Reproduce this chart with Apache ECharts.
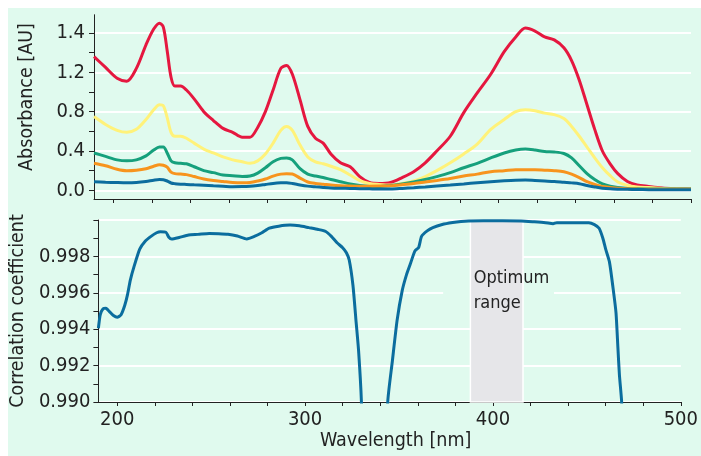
<!DOCTYPE html>
<html>
<head>
<meta charset="utf-8">
<script src="https://cdn.jsdelivr.net/npm/echarts@6/dist/echarts.min.js"></script>
<style>
  html, body { margin: 0; padding: 0; background: #fff; }
  #chart { width: 701px; height: 456px; }
</style>
</head>
<body>
<div id="chart"></div>
<script>
// absorbance spectra, wavelengths in nm
var absWavelength = [190, 196, 202, 207, 212, 217, 221, 224, 226, 228, 230, 232, 235, 238, 242, 247, 252, 257, 262, 267,
  271, 275, 279, 283, 287, 290, 293, 297, 301, 305, 309, 313, 318, 323, 328, 333, 338, 344, 350, 356,
  362, 368, 375, 382, 389, 396, 403, 409, 414, 419, 424, 429, 434, 438, 442, 446, 450, 454, 458, 462,
  467, 472, 478, 485, 492, 500]
var absRed = [1.36, 1.25, 1.14, 1.11, 1.24, 1.48, 1.64, 1.70, 1.66, 1.42, 1.15, 1.06, 1.06, 1.02, 0.93, 0.80, 0.71, 0.63, 0.59, 0.54,
  0.54, 0.64, 0.80, 1.02, 1.24, 1.27, 1.18, 0.92, 0.65, 0.53, 0.48, 0.37, 0.28, 0.24, 0.14, 0.08, 0.07, 0.08, 0.13, 0.19,
  0.28, 0.40, 0.55, 0.79, 0.99, 1.18, 1.41, 1.56, 1.65, 1.62, 1.56, 1.53, 1.45, 1.32, 1.12, 0.87, 0.62, 0.40, 0.27, 0.17,
  0.09, 0.055, 0.04, 0.025, 0.018, 0.013]
var absYellow = [0.75, 0.67, 0.61, 0.59, 0.62, 0.72, 0.82, 0.87, 0.86, 0.74, 0.59, 0.55, 0.55, 0.53, 0.48, 0.42, 0.38, 0.34, 0.31, 0.29,
  0.275, 0.30, 0.37, 0.48, 0.61, 0.65, 0.61, 0.46, 0.34, 0.29, 0.27, 0.245, 0.21, 0.156, 0.10, 0.07, 0.06, 0.054, 0.07, 0.095,
  0.14, 0.20, 0.28, 0.37, 0.47, 0.62, 0.72, 0.80, 0.82, 0.81, 0.785, 0.77, 0.73, 0.65, 0.55, 0.44, 0.33, 0.23, 0.15, 0.085,
  0.05, 0.035, 0.028, 0.02, 0.015, 0.013]
var absGreen = [0.38, 0.345, 0.31, 0.30, 0.31, 0.35, 0.41, 0.44, 0.44, 0.38, 0.30, 0.28, 0.275, 0.27, 0.24, 0.20, 0.18, 0.156, 0.148, 0.14,
  0.145, 0.175, 0.23, 0.29, 0.325, 0.33, 0.31, 0.22, 0.165, 0.145, 0.13, 0.11, 0.088, 0.066, 0.05, 0.04, 0.038, 0.05, 0.065, 0.085,
  0.11, 0.14, 0.18, 0.23, 0.275, 0.33, 0.38, 0.41, 0.42, 0.41, 0.395, 0.39, 0.375, 0.33, 0.25, 0.17, 0.11, 0.065, 0.042, 0.03,
  0.02, 0.016, 0.014, 0.013, 0.013, 0.013]
var absOrange = [0.275, 0.25, 0.215, 0.20, 0.205, 0.22, 0.245, 0.26, 0.255, 0.235, 0.185, 0.17, 0.165, 0.16, 0.14, 0.115, 0.10, 0.09, 0.08, 0.077,
  0.08, 0.095, 0.115, 0.145, 0.165, 0.17, 0.166, 0.125, 0.085, 0.07, 0.063, 0.055, 0.048, 0.044, 0.042, 0.042, 0.043, 0.047, 0.058, 0.07,
  0.085, 0.10, 0.12, 0.145, 0.165, 0.19, 0.20, 0.21, 0.21, 0.21, 0.205, 0.20, 0.19, 0.165, 0.13, 0.088, 0.06, 0.04, 0.03, 0.022,
  0.016, 0.013, 0.012, 0.011, 0.01, 0.01]
var absBlue = [0.088, 0.083, 0.079, 0.077, 0.08, 0.09, 0.103, 0.11, 0.108, 0.095, 0.075, 0.068, 0.063, 0.06, 0.056, 0.052, 0.047, 0.042, 0.037, 0.038,
  0.042, 0.05, 0.06, 0.07, 0.076, 0.077, 0.07, 0.055, 0.043, 0.036, 0.03, 0.025, 0.022, 0.02, 0.017, 0.015, 0.013, 0.014, 0.02, 0.027,
  0.035, 0.045, 0.054, 0.065, 0.077, 0.088, 0.097, 0.103, 0.105, 0.1, 0.095, 0.09, 0.082, 0.076, 0.068, 0.05, 0.035, 0.022, 0.015, 0.012,
  0.01, 0.008, 0.007, 0.006, 0.005, 0.005]

// correlation coefficient vs wavelength
var corrWavelength = [190, 191, 192.5, 194, 196, 198, 200, 202, 204, 205.5, 207, 209, 212, 215, 218, 221, 223, 226, 227.5, 229,
  233, 238, 243, 249, 254, 259, 264, 269, 273, 277, 281, 286, 292, 297, 302, 307, 311, 314, 317, 320,
  322, 323.5, 325.5, 327, 328.5, 330, 333, 341, 344, 346.5, 349, 351.7, 354, 356, 358.5, 360.5, 362, 365, 368, 373,
  378.6, 383, 387, 395, 405, 415, 422, 428, 432, 434, 440, 446, 451, 454, 456.5, 458.5, 460, 462, 464, 465.5,
  466.5, 467.3, 468.5, 470]
var corrValue = [0.99405, 0.9948, 0.99512, 0.99515, 0.99495, 0.99475, 0.99466, 0.99478, 0.9953, 0.9959, 0.9967, 0.99745, 0.9984, 0.99885, 0.9991, 0.9993, 0.99936, 0.99932, 0.99905, 0.99895,
  0.99904, 0.99918, 0.99921, 0.99926, 0.99925, 0.99922, 0.99912, 0.99896, 0.9991, 0.9993, 0.99955, 0.99966, 0.99972, 0.99968, 0.99958, 0.99948, 0.99937, 0.9991, 0.99875, 0.99848,
  0.9982, 0.9978, 0.9964, 0.9946, 0.9928, 0.99, 0.98, 0.98, 0.99, 0.99228, 0.9945, 0.99612, 0.997, 0.99758, 0.9983, 0.9985, 0.9991, 0.9994, 0.99958, 0.99975,
  0.99986, 0.99992, 0.99995, 0.99996, 0.99996, 0.99995, 0.9999, 0.99985, 0.9998, 0.99985, 0.99985, 0.99985, 0.99985, 0.99975, 0.99955, 0.999, 0.9984, 0.9977, 0.9962, 0.9949,
  0.993, 0.9915, 0.99, 0.986]
var optimumRange = [388, 416]

// axis ticks and labels
var xTicks = [200, 220, 240, 260, 280, 300, 320, 340, 360, 380, 400, 420, 440, 460, 480, 500]
var xLabels = [200, 300, 400, 500]
var absMinorTicks = [0, 0.2, 0.4, 0.6, 0.8, 1.0, 1.2, 1.4, 1.6]
var absMajorTicks = [0, 0.4, 0.8, 1.2, 1.6]
var absTickLabels = ['0.0', '0.4', '0.8', '1.2', '1.4']

var mint = '#e0faee'
var ink = '#222'
var font = '"DejaVu Sans Condensed", "Liberation Sans Narrow", sans-serif'

function zip (xs, ys) {
  return xs.map(function (x, i) { return [x, ys[i]] })
}

function line (name, color, xs, ys, xi, yi, smooth) {
  return {
    name: name,
    type: 'line',
    xAxisIndex: xi,
    yAxisIndex: yi,
    data: zip(xs, ys),
    showSymbol: false,
    smooth: smooth,
    lineStyle: { color: color, width: 3 },
    itemStyle: { color: color },
    silent: true
  }
}

var axisLine = { onZero: false, lineStyle: { color: ink, width: 1 } }
var tickLine = { color: ink, width: 1 }
var labelStyle = { color: ink, fontSize: 20, fontFamily: font }
var nameStyle = { color: ink, fontSize: 19.5, fontFamily: font }
var gridLine = { show: true, lineStyle: { color: '#fff', width: 2 } }

var chart = echarts.init(document.getElementById('chart'))
var bottomSeries = line('corr', '#0b6d9e', corrWavelength, corrValue, 1, 2, 0.2)
// mint patch behind the label hides one gridline, then the grey optimum band
bottomSeries.markArea = {
  silent: true,
  data: [
    [{ xAxis: 373.5, yAxis: 0.9955, itemStyle: { color: mint, borderWidth: 0 } }, { xAxis: 432.5, yAxis: 0.9965 }],
    [{
      xAxis: optimumRange[0],
      itemStyle: { color: '#e6e6e9', borderColor: '#fff', borderWidth: 1.5 },
      label: {
        show: true,
        position: [4, 47],
        formatter: 'Optimum\nrange',
        color: ink,
        fontSize: 18,
        lineHeight: 25,
        fontFamily: font,
        align: 'left',
        verticalAlign: 'top'
      }
    }, { xAxis: optimumRange[1] }]
  ]
}

chart.setOption({
  animation: false,
  backgroundColor: mint,
  textStyle: { fontFamily: font },
  graphic: [
    { type: 'rect', left: 0, top: 0, shape: { width: 701, height: 8 }, style: { fill: '#fff' } },
    { type: 'rect', left: 0, top: 0, shape: { width: 8, height: 456 }, style: { fill: '#fff' } }
  ],
  grid: [
    { left: 94, right: 10, top: 15, height: 184 },
    { left: 94, right: 10, top: 220, height: 182 }
  ],
  xAxis: [
    {
      type: 'value', gridIndex: 0, min: 190, max: 500,
      axisLine: axisLine,
      axisTick: { customValues: xTicks, length: 4, lineStyle: tickLine },
      axisLabel: { show: false },
      splitLine: { show: false }
    },
    {
      type: 'value', gridIndex: 1, min: 190, max: 500,
      axisLine: axisLine,
      axisTick: { customValues: xTicks, length: 4, lineStyle: tickLine },
      axisLabel: Object.assign({ customValues: xLabels, margin: 8 }, labelStyle),
      splitLine: { show: false },
      name: 'Wavelength [nm]',
      nameLocation: 'middle',
      nameGap: 26,
      nameTextStyle: Object.assign({ padding: [0, 0, 0, 12] }, nameStyle)
    }
  ],
  yAxis: [
    {
      type: 'value', gridIndex: 0, min: -0.088, max: 1.783, position: 'left',
      axisLine: axisLine,
      axisTick: { customValues: absMajorTicks, length: 5, lineStyle: tickLine },
      axisLabel: Object.assign({
        customValues: absMajorTicks,
        margin: 9,
        formatter: function (v) {
          for (var i = 0; i < absMajorTicks.length; i++) {
            if (Math.abs(absMajorTicks[i] - v) < 1e-6) return absTickLabels[i]
          }
          return ''
        }
      }, labelStyle),
      splitLine: gridLine,
      name: 'Absorbance [AU]',
      nameLocation: 'middle',
      nameGap: 57,
      nameTextStyle: Object.assign({ padding: [0, 0, 0, 20] }, nameStyle)
    },
    {
      type: 'value', gridIndex: 0, min: -0.088, max: 1.783, position: 'left',
      axisLine: axisLine,
      axisTick: { customValues: absMinorTicks, length: 5, lineStyle: tickLine },
      axisLabel: { show: false },
      splitLine: { show: false }
    },
    {
      type: 'value', gridIndex: 1, min: 0.99, max: 1.0, interval: 0.002, position: 'left',
      axisLine: axisLine,
      axisTick: { length: 5, lineStyle: tickLine },
      minorTick: { show: true, splitNumber: 2, length: 5, lineStyle: tickLine },
      axisLabel: Object.assign({
        margin: 8,
        formatter: function (v) { return v > 0.9995 ? '' : v.toFixed(3) }
      }, labelStyle),
      splitLine: gridLine,
      name: 'Correlation coefficient',
      nameLocation: 'middle',
      nameGap: 57,
      nameTextStyle: nameStyle
    }
  ],
  series: [
    line('red', '#e5173f', absWavelength, absRed, 0, 0, 0.3),
    line('yellow', '#fff27a', absWavelength, absYellow, 0, 0, 0.3),
    line('green', '#16a07c', absWavelength, absGreen, 0, 0, 0.3),
    line('orange', '#f7941d', absWavelength, absOrange, 0, 0, 0.3),
    line('blue', '#0b6d9e', absWavelength, absBlue, 0, 0, 0.3),
    bottomSeries
  ]
})
</script>
</body>
</html>
